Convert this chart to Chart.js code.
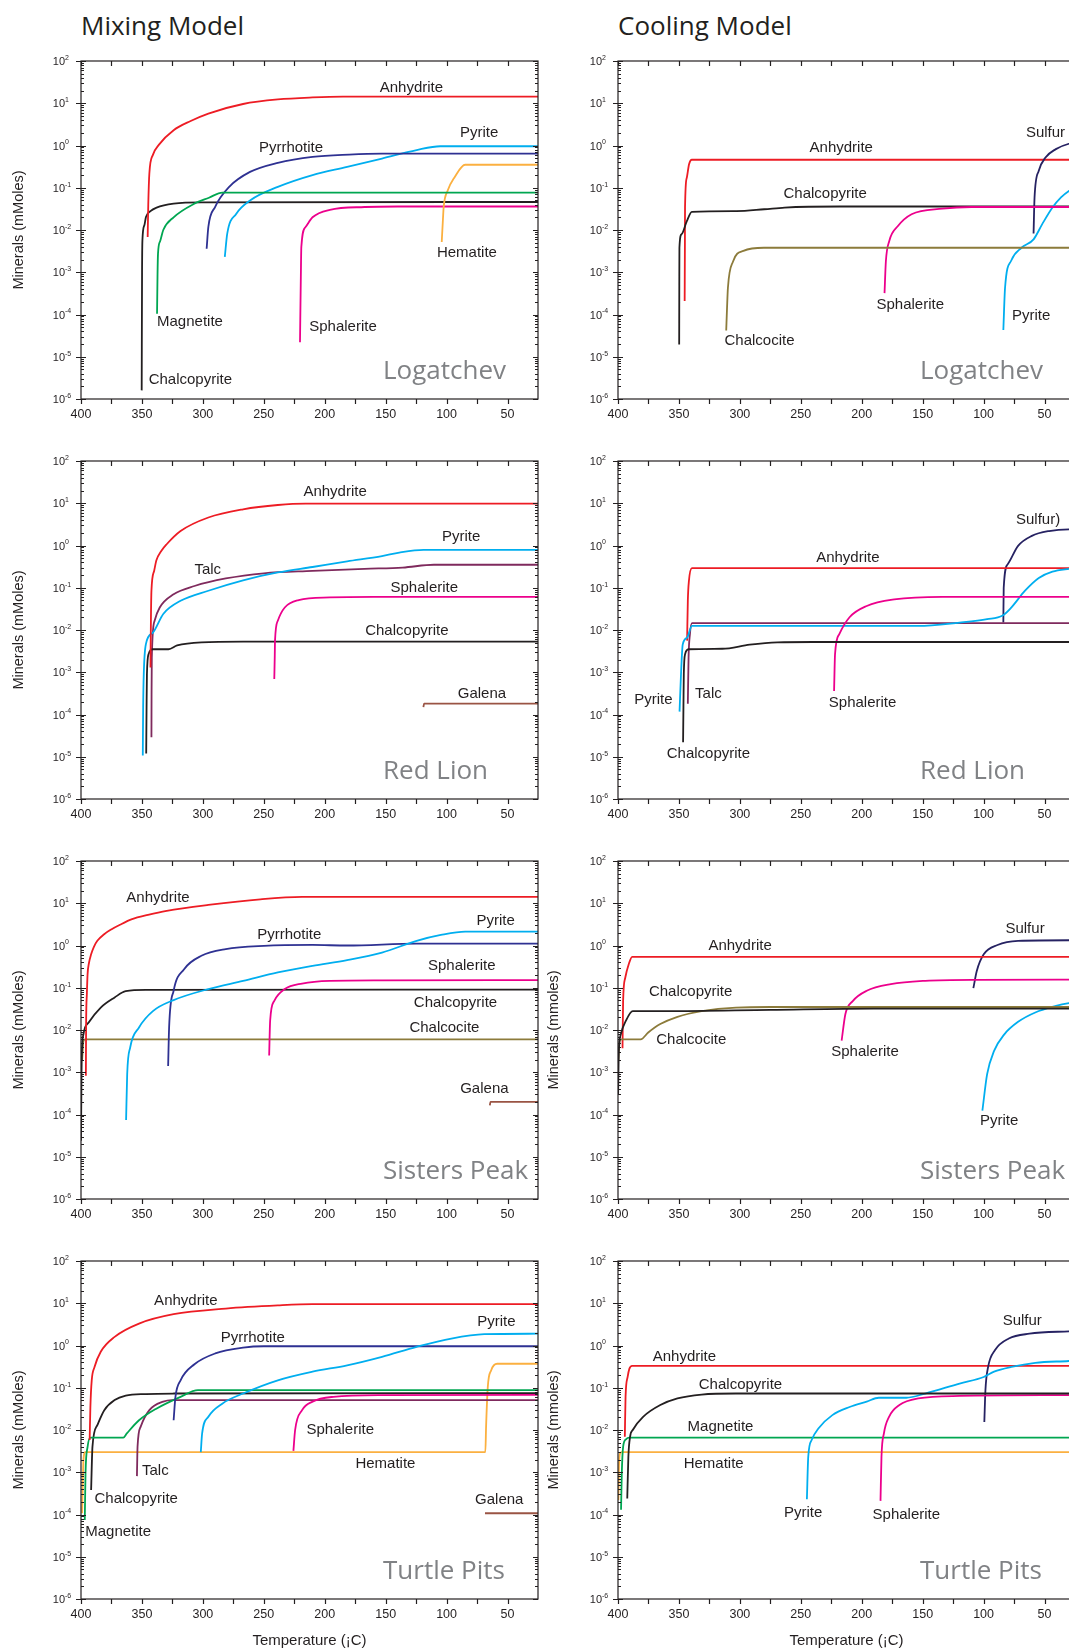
<!DOCTYPE html>
<html>
<head>
<meta charset="utf-8">
<script src="https://cdn.jsdelivr.net/npm/chart.js@4.4.1/dist/chart.umd.min.js"></script>
<style>
  html, body { margin: 0; padding: 0; background: #fff; overflow: hidden; }
  body { position: relative; width: 1069px; height: 1652px; }
  .head { position: absolute; top: 7px; font: 26px "Open Sans"; color: #231f20; white-space: nowrap; }
  canvas { position: absolute; }
</style>
</head>
<body>
<div class="head" style="left:81px">Mixing Model</div>
<div class="head" style="left:618px">Cooling Model</div>
<canvas id="mixLog" width="545" height="399" style="left:0;top:40px"></canvas>
<canvas id="coolLog" width="540" height="399" style="left:545px;top:40px"></canvas>
<canvas id="mixRed" width="545" height="399" style="left:0;top:440px"></canvas>
<canvas id="coolRed" width="540" height="399" style="left:545px;top:440px"></canvas>
<canvas id="mixSis" width="545" height="399" style="left:0;top:840px"></canvas>
<canvas id="coolSis" width="540" height="399" style="left:545px;top:840px"></canvas>
<canvas id="mixTur" width="545" height="421" style="left:0;top:1240px"></canvas>
<canvas id="coolTur" width="540" height="421" style="left:545px;top:1240px"></canvas>
<script>
// axis ticks
const xTickLabels = [400, 350, 300, 250, 200, 150, 100, 50];
const yDecades = [1e-6, 1e-5, 1e-4, 1e-3, 1e-2, 1e-1, 1, 10, 100];
const yExponents = ["-6", "-5", "-4", "-3", "-2", "-1", "0", "1", "2"];

// colours
const RED = "#ed1c24", BLACK = "#231f20", GREEN = "#00a651", NAVY = "#2e3192",
      CYAN = "#00aeef", ORANGE = "#fbb040", MAGENTA = "#ec008c", TALC = "#7f2a5d",
      BROWN = "#9a5444", OLIVE = "#8c7b3b", SULFUR = "#262262";

// ---- Logatchev, mixing  [temperature, mmoles]
const mixLogAnhydrite = [[345.3,0.0068],[344.8,0.04],[343.9,0.22],[341,0.6],[336,1.05],[324,2.3],[310,3.8],[295.5,5.7],[267,9.6],[238.5,12.3],[210,13.7],[185,14.3],[25,14.3]];
const mixLogChalcopyrite = [[350.2,1.6e-6],[349.9,1e-3],[349.6,0.0057],[348,0.013],[346.7,0.0204],[343,0.028],[338,0.034],[324,0.042],[300,0.045],[25,0.046]];
const mixLogMagnetite = [[337.6,1.04e-4],[337.2,9e-4],[336.8,0.0028],[335,0.0055],[332.5,0.01],[324,0.02],[307,0.042],[295,0.058],[284,0.077],[25,0.077]];
const mixLogPyrrhotite = [[296.9,0.0036],[295.5,0.0118],[290,0.035],[278.4,0.105],[261.3,0.237],[238.5,0.39],[210,0.54],[180,0.61],[153,0.64],[25,0.64]];
const mixLogPyrite = [[282,0.0023],[280,0.0082],[272.7,0.024],[261.3,0.05],[238.5,0.105],[210,0.2],[181.6,0.31],[153,0.49],[124.6,0.78],[105.2,0.96],[25,0.96]];
const mixLogHematite = [[104,0.0052],[103,0.018],[102.4,0.035],[99,0.087],[93.3,0.18],[84.8,0.35],[25,0.35]];
const mixLogSphalerite = [[220.3,2.2e-5],[219.6,8e-4],[219.2,0.004],[215.7,0.0118],[210,0.02],[195.8,0.03],[167.3,0.035],[140,0.036],[25,0.036]];
const mixLogLabels = [["Anhydrite",128.9,23.7],["Pyrite",73.3,2.0],["Pyrrhotite",227.7,0.89],["Hematite",83.3,0.00285],
  ["Magnetite",310.6,6.8e-5],["Sphalerite",185,5e-5],["Chalcopyrite",310.3,2.8e-6]];

// ---- Logatchev, cooling
const coolLogAnhydrite = [[345.3,2.1e-4],[345.1,0.005],[345,0.034],[343.6,0.17],[341.7,0.36],[339.4,0.46],[25,0.46]];
const coolLogChalcopyrite = [[349.8,1.95e-5],[349.7,5e-4],[349.6,0.0038],[347.9,0.0079],[343.6,0.016],[339.4,0.027],[302.8,0.028],[280,0.031],[263.3,0.034],[218,0.036],[25,0.036]];
const coolLogChalcocite = [[311.2,4.2e-5],[310.5,1.5e-4],[309.8,4.3e-4],[305.6,0.0018],[297.1,0.0032],[280.2,0.0038],[25,0.0038]];
const coolLogSphalerite = [[181.3,3.2e-4],[180.2,0.0018],[177.4,0.0055],[170.3,0.0124],[159.1,0.0236],[133.7,0.032],[110,0.035],[25,0.035]];
const coolLogSulfur = [[59,0.0083],[58.2,0.059],[54.8,0.25],[49.2,0.52],[40.7,0.82],[30,1.1],[25,1.15]];
const coolLogPyrite = [[83.8,4.3e-5],[82.4,4.3e-4],[77.3,0.0019],[68.9,0.0038],[59,0.006],[52,0.0136],[43.5,0.034],[36.5,0.059],[30,0.084],[25,0.1]];
const coolLogLabels = [["Anhydrite",216.8,0.9],["Chalcopyrite",230,0.072],["Sulfur",49.2,1.95],["Sphalerite",160.2,1.7e-4],
  ["Pyrite",61,9.1e-5],["Chalcocite",283.9,2.4e-5]];

// ---- Red Lion, mixing
const mixRedAnhydrite = [[343,0.0013],[342.6,0.02],[342.2,0.085],[340,0.25],[338.2,0.44],[334,0.75],[329.7,1.07],[318.3,2.2],[295.5,4.6],[267,7.2],[238.5,9.1],[215.7,9.8],[25,9.8]];
const mixRedChalcopyrite = [[346.5,1.2e-5],[346.2,1.5e-4],[345.9,9e-4],[344.5,0.0027],[341,0.0035],[328.2,0.0035],[321.1,0.0043],[301.2,0.0051],[267,0.0053],[25,0.0053]];
const mixRedPyrite = [[349.3,1.07e-5],[349,1.5e-4],[348.5,9e-4],[346.7,0.0047],[341,0.0087],[332.5,0.024],[318.3,0.049],[295.5,0.085],[267,0.15],[238.5,0.23],[210,0.31],[181.6,0.42],[153,0.56],[138.8,0.68],[118.9,0.79],[25,0.79]];
const mixRedTalc = [[342.2,2.9e-5],[342.1,3e-4],[341.9,0.0022],[339.6,0.0166],[335.4,0.034],[324,0.07],[306.9,0.11],[281.2,0.166],[249.9,0.22],[210,0.25],[167.3,0.28],[136,0.3],[110.4,0.35],[25,0.35]];
const mixRedSphalerite = [[241.4,6.9e-4],[241,0.0025],[240.8,0.0056],[238.5,0.0166],[232.8,0.034],[221.4,0.051],[195.8,0.059],[160,0.061],[25,0.061]];
const mixRedGalena = [[119,1.5e-4],[118.5,1.8e-4],[25,1.8e-4]];
const mixRedLabels = [["Anhydrite",191.5,18.7],["Pyrite",88.1,1.6],["Talc",296,0.26],["Sphalerite",118.3,0.102],
  ["Chalcopyrite",132.6,0.0096],["Galena",71,3e-4]];

// ---- Red Lion, cooling
const coolRedAnhydrite = [[343.3,0.0056],[342.7,0.049],[341.8,0.145],[339.3,0.29],[25,0.29]];
const coolRedChalcopyrite = [[346.6,2.2e-5],[346.3,1.5e-4],[346,9.1e-4],[344.9,0.0027],[342.1,0.0035],[314.5,0.0036],[291.9,0.0045],[269.3,0.0051],[240,0.0052],[25,0.0052]];
const coolRedPyrite = [[349.5,1.17e-4],[348.3,9e-4],[346.9,0.0045],[343.3,0.0066],[339.3,0.0125],[153.6,0.0125],[119.7,0.015],[97.1,0.018],[84.4,0.022],[77.3,0.034],[66,0.085],[54.7,0.17],[43.5,0.24],[30,0.28],[25,0.29]];
const coolRedTalc = [[342.7,1.8e-4],[342.1,0.0022],[341,0.0079],[339.3,0.0145],[25,0.0145]];
const coolRedSphalerite = [[222.7,3.6e-4],[221.9,0.0027],[218.5,0.0079],[210,0.02],[195.9,0.037],[173.3,0.053],[133.8,0.061],[25,0.061]];
const coolRedSulfur = [[83.8,0.015],[83.5,0.1],[80.2,0.36],[71.7,0.98],[60.4,1.69],[46.3,2.2],[30,2.4],[25,2.4]];
const coolRedLabels = [["Anhydrite",211.4,0.5],["Sulfur)",55.3,4.0],["Pyrite",370.9,2.2e-4],["Talc",325.8,3e-4],
  ["Sphalerite",199.3,1.86e-4],["Chalcopyrite",325.8,1.2e-5]];

// ---- Sisters Peak, mixing
const mixSisAnhydrite = [[396,8.3e-4],[395.8,0.0138],[395.2,0.07],[394.6,0.21],[393.5,0.38],[391.7,0.62],[389.5,0.92],[386.6,1.29],[381,1.85],[375.2,2.4],[368,3.1],[358.1,4.2],[345,5.3],[329.7,6.6],[295.5,9.1],[252.8,12.4],[218.6,14.1],[25,14.1]];
const mixSisChalcopyrite = [[400,2.4e-5],[399.6,8e-4],[399.4,0.0022],[398,0.0079],[393.7,0.015],[383.8,0.034],[372.4,0.059],[363.3,0.083],[346.7,0.089],[25,0.09]];
const mixSisChalcocite = [[399.1,0.0019],[398,0.0055],[396.6,0.006],[25,0.006]];
const mixSisPyrite = [[363,7.4e-5],[362.1,9e-4],[359.6,0.0039],[352.4,0.0115],[341,0.028],[324,0.051],[295.5,0.093],[267,0.145],[238.5,0.23],[210,0.33],[181.6,0.45],[153,0.68],[124.6,1.29],[104.7,1.78],[84.7,2.14],[25,2.14]];
const mixSisPyrrhotite = [[328.5,0.0014],[327.7,0.0115],[324,0.085],[315.4,0.275],[301.2,0.57],[281.2,0.82],[249.9,0.98],[210,1.03],[181.6,1.0],[124.6,1.11],[25,1.11]];
const mixSisSphalerite = [[245.6,0.0025],[244.8,0.0166],[241.4,0.049],[232.8,0.093],[218.6,0.126],[195.8,0.146],[153,0.15],[25,0.152]];
const mixSisGalena = [[64.5,1.65e-4],[64,2.0e-4],[25,2.0e-4]];
const mixSisLabels = [["Anhydrite",336.8,13.6],["Pyrite",59.7,3.8],["Pyrrhotite",229.1,1.78],["Sphalerite",87.6,0.33],
  ["Chalcopyrite",92.7,0.045],["Chalcocite",101.8,0.011],["Galena",69,4e-4]];

// ---- Sisters Peak, cooling
const coolSisAnhydrite = [[396.3,0.0037],[395.8,0.049],[394.1,0.17],[391.2,0.36],[388.4,0.54],[25,0.54]];
const coolSisChalcopyrite = [[399.9,3e-4],[399.4,0.0027],[397.7,0.0079],[393.5,0.0166],[387.9,0.028],[359.6,0.028],[274.9,0.03],[190.3,0.032],[25,0.032]];
const coolSisChalcocite = [[399.7,0.0019],[398.6,0.0056],[396.9,0.006],[381.4,0.006],[375.2,0.0087],[365.3,0.0138],[351.2,0.0205],[331.4,0.028],[303.2,0.034],[274.9,0.035],[25,0.035]];
const coolSisSphalerite = [[216.5,0.0056],[213.4,0.024],[207.2,0.049],[195.9,0.085],[176.1,0.122],[147.9,0.146],[105.6,0.154],[25,0.155]];
const coolSisSulfur = [[108.4,0.098],[105.6,0.25],[99.9,0.62],[88.6,1.03],[71.7,1.29],[30,1.33],[25,1.33]];
const coolSisPyrite = [[101,1.23e-4],[97.1,9e-4],[91.4,0.0032],[83,0.0079],[71.7,0.0156],[57.6,0.026],[40.6,0.037],[30,0.043],[25,0.045]];
const coolSisLabels = [["Anhydrite",299.8,0.98],["Chalcopyrite",340.4,0.078],["Chalcocite",339.9,0.0059],
  ["Sphalerite",197.3,0.003],["Sulfur",66,2.5],["Pyrite",87.2,6.9e-5]];

// ---- Turtle Pits, mixing
const mixTurAnhydrite = [[392.9,0.0058],[392.3,0.035],[391.2,0.15],[388.9,0.31],[383.8,0.71],[372.4,1.6],[352.4,3.3],[324,5.5],[281.2,7.5],[238.5,8.9],[210,9.5],[25,9.5]];
const mixTurChalcopyrite = [[391.7,3.8e-4],[390.6,0.004],[386.6,0.013],[380.9,0.0295],[372.4,0.051],[363.3,0.065],[346.7,0.071],[324,0.073],[25,0.075]];
const mixTurMagnetite = [[396.9,7.4e-5],[396.3,9.3e-4],[394.6,0.004],[392.3,0.0066],[365.3,0.0066],[362.4,0.0083],[352.4,0.017],[338.2,0.032],[318.3,0.061],[304,0.088],[25,0.088]];
const mixTurHematite = [[399.1,1.07e-4],[398,0.0019],[396.6,0.003],[68.2,0.003],[67.6,0.012],[66.2,0.105],[63.4,0.26],[58.5,0.37],[25,0.37]];
const mixTurTalc = [[354.1,8.1e-4],[353.6,0.004],[351,0.012],[343.9,0.0295],[332.5,0.047],[325.4,0.051],[25,0.051]];
const mixTurPyrrhotite = [[324,0.017],[322.5,0.061],[318.3,0.15],[306.9,0.36],[289.8,0.65],[267,0.89],[249.9,0.96],[25,0.96]];
const mixTurPyrite = [[301.7,0.003],[300.6,0.0083],[295.5,0.0205],[284.1,0.042],[267,0.073],[238.5,0.15],[210,0.24],[181.6,0.34],[153,0.54],[124.6,0.93],[96.1,1.46],[69.1,1.85],[25,1.9]];
const mixTurSphalerite = [[225.7,0.0032],[224.3,0.01],[218.6,0.0295],[210,0.047],[192.9,0.061],[153,0.067],[25,0.068]];
const mixTurGalena = [[68.5,1.07e-4],[25,1.07e-4]];
const mixTurLabels = [["Anhydrite",314,11.3],["Pyrite",59.1,3.6],["Pyrrhotite",259,1.55],["Sphalerite",187.3,0.0102],
  ["Hematite",150.2,0.00155],["Talc",339,0.0011],["Chalcopyrite",354.7,2.3e-4],["Magnetite",369.5,3.8e-5],["Galena",56.8,2.2e-4]];

// ---- Turtle Pits, cooling
const coolTurAnhydrite = [[394.4,0.0069],[393.8,0.061],[392.1,0.18],[390.7,0.28],[388.4,0.33],[25,0.33]];
const coolTurChalcopyrite = [[392.4,2.4e-4],[391.5,0.0023],[390.1,0.0069],[387.9,0.01],[379.4,0.0205],[365.3,0.039],[351.2,0.056],[331.4,0.069],[303.2,0.073],[25,0.073]];
const coolTurMagnetite = [[397.5,1.3e-4],[396.9,9.3e-4],[395.8,0.004],[393.5,0.006],[390.7,0.0066],[25,0.0066]];
const coolTurHematite = [[399.7,2.2e-4],[399.2,0.00135],[398.3,0.0028],[396.9,0.003],[25,0.003]];
const coolTurPyrite = [[245,2.3e-4],[243.9,0.0023],[241.1,0.0058],[235.4,0.011],[224.1,0.0225],[210,0.035],[195.9,0.047],[186,0.058],[163.4,0.058],[147.9,0.073],[119.7,0.126],[99.9,0.18],[91.4,0.24],[77.3,0.31],[57.6,0.39],[30,0.43],[25,0.44]];
const coolTurSphalerite = [[184.6,2.1e-4],[183.8,0.0023],[181.8,0.0083],[177.6,0.0205],[169.1,0.039],[153.6,0.056],[119.7,0.064],[25,0.067]];
const coolTurSulfur = [[99.4,0.0155],[98.5,0.087],[96.3,0.31],[90.6,0.78],[79.3,1.46],[62.4,1.9],[30,2.17],[25,2.2]];
const coolTurLabels = [["Anhydrite",345.5,0.54],["Chalcopyrite",299.5,0.12],["Magnetite",315.9,0.012],["Hematite",321.5,0.00155],
  ["Pyrite",248.1,1.1e-4],["Sphalerite",163.4,9.7e-5],["Sulfur",68.3,3.8]];

function series(pts, color) {
  return {
    data: pts.map(p => ({ x: p[0], y: p[1] })),
    borderColor: color,
    borderWidth: 1.8,
    showLine: true,
    pointRadius: 0,
    fill: false,
    cubicInterpolationMode: "monotone"
  };
}

// frame, tick marks, decade labels, curve names and site name
function decorPlugin(labels, site) {
  return {
    id: "decor",
    afterDatasetsDraw(chart) {
      const { ctx, chartArea: a, scales: { x, y } } = chart;
      ctx.save();
      ctx.strokeStyle = "#231f20";
      ctx.lineWidth = 1.2;
      ctx.strokeRect(a.left, a.top, a.right - a.left, a.bottom - a.top);
      ctx.beginPath();
      for (let t = 400; t > 25; t -= 25) {
        const px = Math.round(x.getPixelForValue(t)) + 0.5;
        ctx.moveTo(px, a.bottom); ctx.lineTo(px, a.bottom + 5);
        ctx.moveTo(px, a.top); ctx.lineTo(px, a.top + 5);
      }
      for (let e = -6; e <= 2; e++) {
        for (let m = 1; m < 10; m++) {
          if (e === 2 && m > 1) break;
          const py = Math.round(y.getPixelForValue(m * Math.pow(10, e))) + 0.5;
          const len = m === 1 ? 5 : 3;
          ctx.moveTo(a.left, py); ctx.lineTo(a.left + len, py);
          ctx.moveTo(a.right, py); ctx.lineTo(a.right - len, py);
          if (m === 1) { ctx.moveTo(a.left, py); ctx.lineTo(a.left - 5, py); }
        }
      }
      ctx.stroke();

      ctx.fillStyle = "#231f20";
      ctx.textBaseline = "middle";
      yDecades.forEach((v, i) => {
        const py = y.getPixelForValue(v);
        ctx.font = "11px 'Liberation Sans'";
        ctx.textAlign = "right";
        ctx.fillText("10", a.left - 16, py + 1);
        ctx.font = "7px 'Liberation Sans'";
        ctx.textAlign = "left";
        ctx.fillText(yExponents[i], a.left - 16, py - 3);
      });

      ctx.font = "15px 'Liberation Sans'";
      ctx.textAlign = "center";
      labels.forEach(l => {
        ctx.fillText(l[0], x.getPixelForValue(l[1]), y.getPixelForValue(l[2]));
      });

      ctx.font = "26px 'Open Sans'";
      ctx.fillStyle = "#808285";
      ctx.textAlign = "left";
      ctx.textBaseline = "alphabetic";
      ctx.fillText(site, a.left + 302, a.bottom - 20);
      ctx.restore();
    }
  };
}

function makePanel(id, curves, labels, site, left, yTitle, xTitle) {
  new Chart(document.getElementById(id), {
    type: "scatter",
    data: { datasets: curves },
    options: {
      responsive: false,
      animation: false,
      events: [],
      layout: { padding: { top: 21, right: left ? 7 : 10, left: 0, bottom: 0 } },
      plugins: { legend: { display: false }, tooltip: { enabled: false } },
      scales: {
        x: {
          type: "linear", min: 25, max: 400, reverse: true,
          grid: { display: false, drawTicks: false }, border: { display: false },
          afterBuildTicks: s => { s.ticks = xTickLabels.map(v => ({ value: v })); },
          afterFit: s => { s.height = xTitle ? 62 : 40; },
          ticks: { padding: 8, autoSkip: false, maxRotation: 0, color: "#231f20",
                   font: { family: "Liberation Sans", size: 12.5 } },
          title: { display: xTitle, text: "Temperature (¡C)", color: "#231f20",
                   font: { family: "Liberation Sans", size: 15 }, padding: { top: 0, bottom: 11 } }
        },
        y: {
          type: "logarithmic", min: 1e-6, max: 100,
          grid: { display: false, drawTicks: false }, border: { display: false },
          afterBuildTicks: s => { s.ticks = yDecades.map(v => ({ value: v })); },
          afterFit: s => { s.width = left ? 81 : 73; },
          ticks: { display: false },
          title: { display: !!yTitle, text: yTitle || "", color: "#231f20",
                   font: { family: "Liberation Sans", size: 14.5 }, padding: { top: left ? 10 : 0, bottom: 0 } }
        }
      }
    },
    plugins: [decorPlugin(labels, site)]
  });
}

makePanel("mixLog", [
  series(mixLogAnhydrite, RED), series(mixLogMagnetite, GREEN), series(mixLogPyrrhotite, NAVY),
  series(mixLogPyrite, CYAN), series(mixLogHematite, ORANGE), series(mixLogSphalerite, MAGENTA),
  series(mixLogChalcopyrite, BLACK)
], mixLogLabels, "Logatchev", true, "Minerals (mMoles)", false);

makePanel("coolLog", [
  series(coolLogChalcocite, OLIVE), series(coolLogSphalerite, MAGENTA), series(coolLogPyrite, CYAN),
  series(coolLogSulfur, SULFUR), series(coolLogChalcopyrite, BLACK), series(coolLogAnhydrite, RED)
], coolLogLabels, "Logatchev", false, null, false);

makePanel("mixRed", [
  series(mixRedAnhydrite, RED), series(mixRedSphalerite, MAGENTA), series(mixRedGalena, BROWN),
  series(mixRedChalcopyrite, BLACK), series(mixRedPyrite, CYAN), series(mixRedTalc, TALC)
], mixRedLabels, "Red Lion", true, "Minerals (mMoles)", false);

makePanel("coolRed", [
  series(coolRedChalcopyrite, BLACK), series(coolRedSphalerite, MAGENTA), series(coolRedPyrite, CYAN),
  series(coolRedTalc, TALC), series(coolRedAnhydrite, RED), series(coolRedSulfur, SULFUR)
], coolRedLabels, "Red Lion", false, null, false);

makePanel("mixSis", [
  series(mixSisAnhydrite, RED), series(mixSisPyrite, CYAN), series(mixSisPyrrhotite, NAVY),
  series(mixSisSphalerite, MAGENTA), series(mixSisGalena, BROWN), series(mixSisChalcopyrite, BLACK),
  series(mixSisChalcocite, OLIVE)
], mixSisLabels, "Sisters Peak", true, "Minerals (mMoles)", false);

makePanel("coolSis", [
  series(coolSisChalcopyrite, BLACK), series(coolSisChalcocite, OLIVE), series(coolSisAnhydrite, RED),
  series(coolSisSphalerite, MAGENTA), series(coolSisSulfur, SULFUR), series(coolSisPyrite, CYAN)
], coolSisLabels, "Sisters Peak", false, "Minerals (mmoles)", false);

makePanel("mixTur", [
  series(mixTurAnhydrite, RED), series(mixTurPyrite, CYAN), series(mixTurPyrrhotite, NAVY),
  series(mixTurSphalerite, MAGENTA), series(mixTurGalena, BROWN), series(mixTurMagnetite, GREEN),
  series(mixTurChalcopyrite, BLACK), series(mixTurTalc, TALC), series(mixTurHematite, ORANGE)
], mixTurLabels, "Turtle Pits", true, "Minerals (mMoles)", true);

makePanel("coolTur", [
  series(coolTurChalcopyrite, BLACK), series(coolTurPyrite, CYAN), series(coolTurSphalerite, MAGENTA),
  series(coolTurSulfur, SULFUR), series(coolTurMagnetite, GREEN), series(coolTurHematite, ORANGE),
  series(coolTurAnhydrite, RED)
], coolTurLabels, "Turtle Pits", false, "Minerals (mmoles)", true);
</script>
</body>
</html>
